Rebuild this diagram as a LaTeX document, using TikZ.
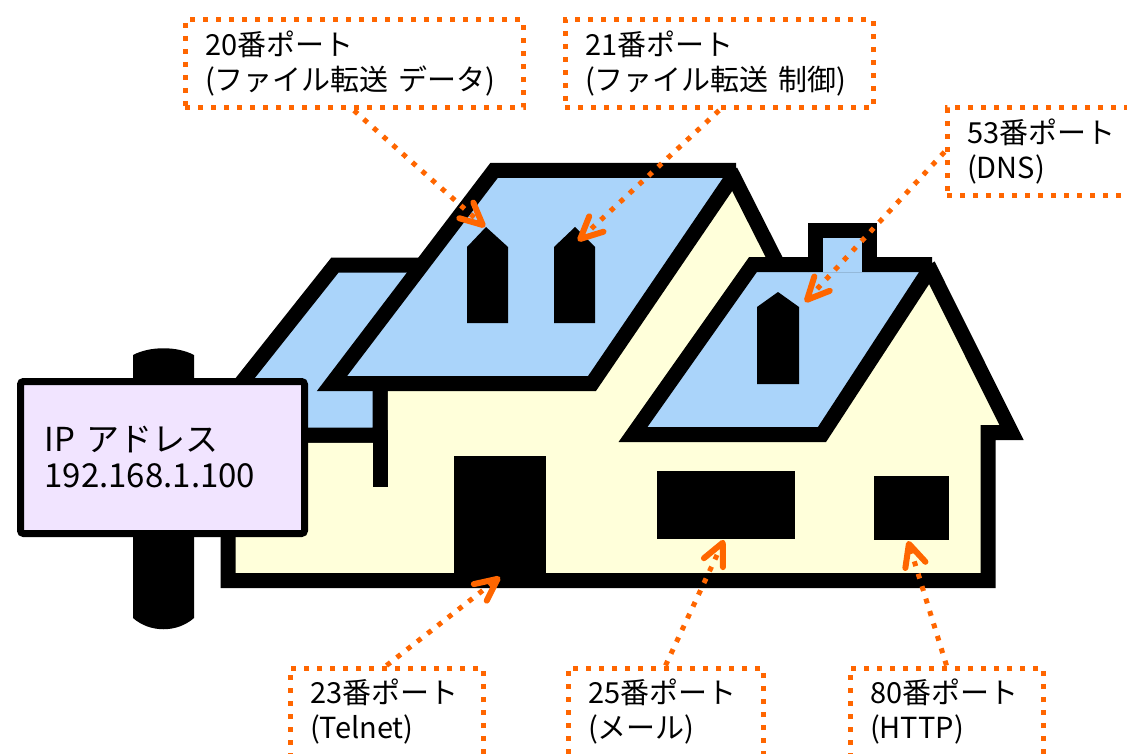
\documentclass[tikz,border=0pt]{standalone}
\usepackage{fontspec}
\setmainfont{Noto Sans CJK JP}
\usetikzlibrary{arrows.meta}

\definecolor{roofblue}{RGB}{170,212,250}
\definecolor{wallcream}{RGB}{255,255,218}
\definecolor{signlilac}{RGB}{241,228,255}
\definecolor{portorange}{RGB}{255,102,0}

\begin{document}
\begin{tikzpicture}[x=1pt,y=-1pt,
    outline/.style={draw=black,line width=15pt},
    roof/.style={outline,fill=roofblue},
    wall/.style={outline,fill=wallcream},
    portbox/.style={draw=portorange,line width=5pt,dash pattern=on 5pt off 8pt,
        anchor=north west,minimum height=88pt,inner xsep=20pt,align=left,
        font=\fontsize{29}{35}\selectfont},
    portarrow/.style={draw=portorange,line width=5pt,dash pattern=on 5pt off 8pt,
        -{Straight Barb[length=22pt,width=21pt,line width=6pt,round]}}]
    \useasboundingbox (0,0) rectangle (1127,754);

    \draw[wall] (228,580.5) -- (228,435) -- (380,435) -- (380,383) -- (734,178)
        -- (816,340) -- (931.5,272) -- (1011.5,432.5) -- (988,432.5) -- (988,580.5) -- cycle;
    \draw[roof] (200,435) -- (335,265) -- (460,265) -- (380,370) -- (380,435) -- cycle;
    \draw[outline] (380,430) -- (380,487);
    \draw[roof] (733,176.5) -- (592,383.5) -- (332,383.5) -- (494,170.5) -- (736,170.5);
    \draw[roof] (929,270.5) -- (822,434.5) -- (633,434.5) -- (753,264.5) -- (932,264.5);
    \draw[roof] (815.5,272) -- (815.5,230.5) -- (869.5,230.5) -- (869.5,272);

    \fill (467,323) -- (467,247) -- (486,227) -- (508,247) -- (508,323) -- cycle;
    \fill (554,323) -- (554,247) -- (575,227) -- (595,247) -- (595,323) -- cycle;
    \fill (757,384) -- (757,307) -- (778,292) -- (799,307) -- (799,384) -- cycle;
    \fill (454,456) rectangle (546,575);
    \fill (657,471) rectangle (795,539);
    \fill (874,476) rectangle (949,540);

    \fill (133,355) .. controls (150,346) and (177,346) .. (194,355) -- (194,618)
        .. controls (177,633) and (150,633) .. (133,618) -- cycle;
    \node[draw,line width=7pt,rounded corners=3pt,fill=signlilac,minimum height=152pt,
        text width=236pt,inner xsep=24pt,align=left,font=\fontsize{33}{36}\selectfont]
        (addr) at (162.5,457.5) {IP アドレス\\192.168.1.100};

    \node[portbox,text width=298pt] (port20) at (182.5,17.5) {20番ポート\\(ファイル転送 データ)};
    \node[portbox,text width=268pt] (port21) at (562.5,17.5) {21番ポート\\(ファイル転送 制御)};
    \node[portbox,text width=150pt] (port53) at (944.5,105.5) {53番ポート\\(DNS)};
    \node[portbox,text width=153pt] (port23) at (287.5,665.5) {23番ポート\\(Telnet)};
    \node[portbox,text width=155pt] (port25) at (565.5,665.5) {25番ポート\\(メール)};
    \node[portbox,text width=153pt] (port80) at (847.5,665.5) {80番ポート\\(HTTP)};

    \coordinate (tip20) at (485,227);
    \coordinate (tip21) at (578,241);
    \coordinate (tip53) at (805,302);
    \coordinate (tip23) at (500,577);
    \coordinate (tip25) at (724,540);
    \coordinate (tip80) at (908,541);

    \draw[portarrow] (port20.south) -- (tip20);
    \draw[portarrow] (port21.south) -- (tip21);
    \draw[portarrow] (port53.west) -- (tip53);
    \draw[portarrow] (port23.north) -- (tip23);
    \draw[portarrow] (port25.north) -- (tip25);
    \draw[portarrow] (port80.north) -- (tip80);
\end{tikzpicture}
\end{document}
